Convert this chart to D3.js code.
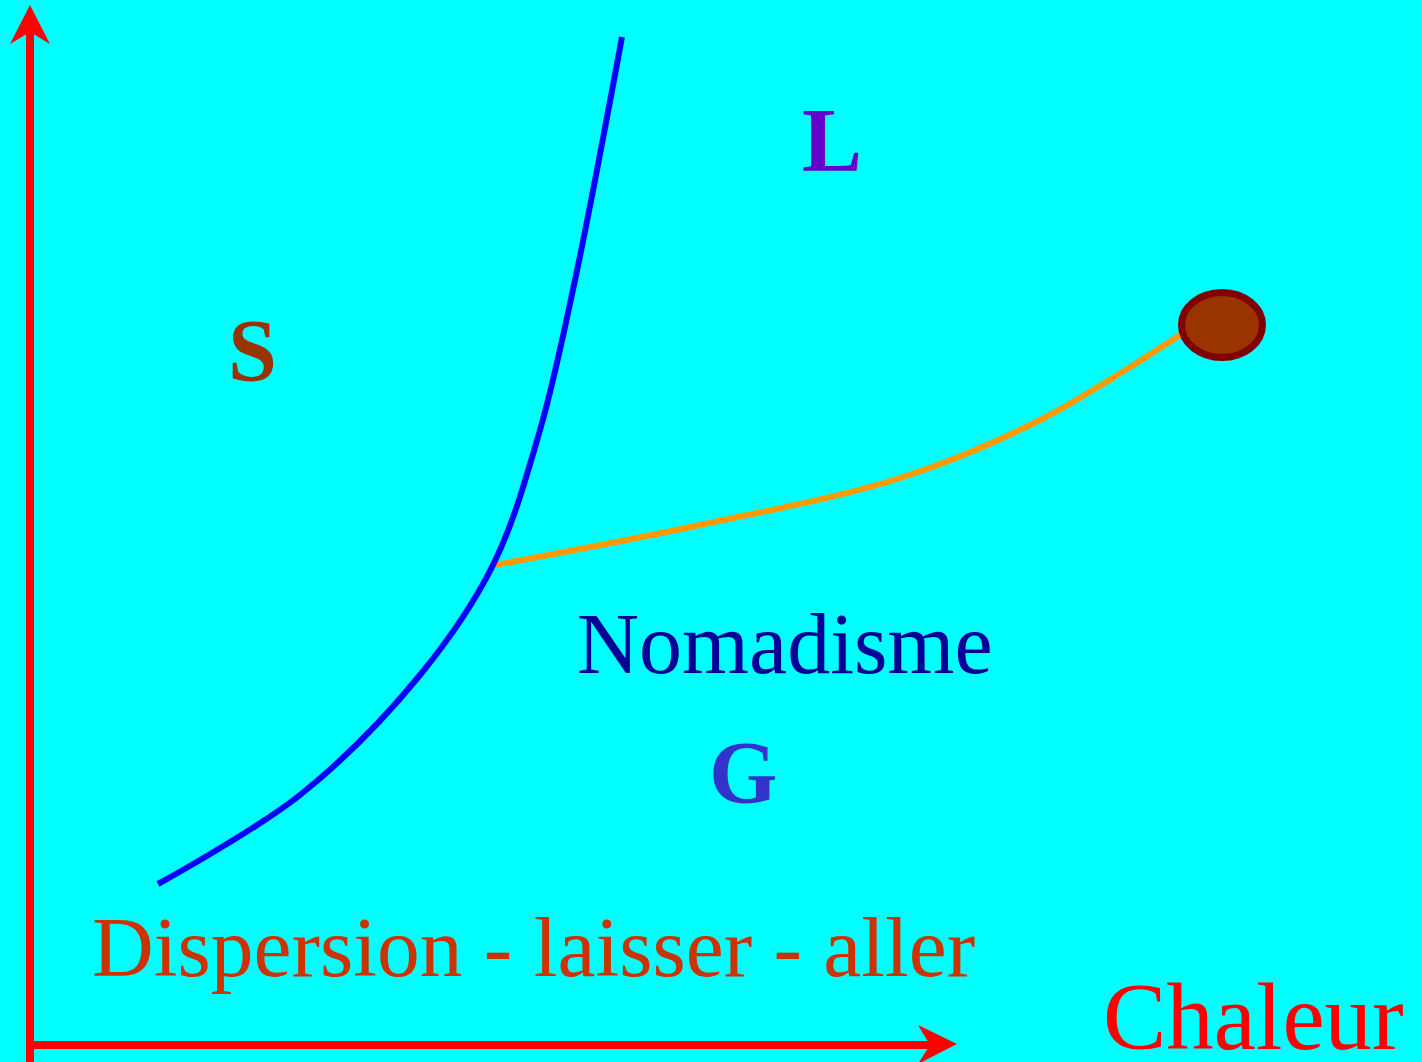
<!DOCTYPE html>
<html>
<head>
<meta charset="utf-8">
<script src="https://cdn.jsdelivr.net/npm/d3@7"></script>
<style>
html,body{margin:0;padding:0;background:#00ffff;overflow:hidden;}
svg{display:block;}
</style>
</head>
<body>
<svg id="chart" width="1422" height="1062"></svg>
<script>
// Data in schematic units (origin at axes crossing, x = heat, y = upward)
const solidLiquidBoundary = [
  [128,161],[270,250],[390,370],[463,480],[510,615],[545,765],[592,1008]
];
const liquidGasBoundary = [
  [465,480],[670,520],[870,567],[1010,625],[1150,710]
];
const criticalPoint = [1192, 720];
const labels = [
  {text:"S", x:198, y:665, size:88, weight:"bold", color:"#993300"},
  {text:"L", x:772, y:874, size:90, weight:"bold", color:"#6600cc"},
  {text:"G", x:679, y:243, size:88, weight:"bold", color:"#3333cc"},
  {text:"Nomadisme", x:547, y:372, size:86, weight:"normal", color:"#000099"},
  {text:"Dispersion - laisser - aller", x:62, y:69, size:85.5, weight:"normal", color:"#cc3300"},
  {text:"Chaleur", x:1073, y:-4, size:95, weight:"normal", color:"#ff0000"}
];
const xAxisExtent = [-4, 927];
const yAxisExtent = [-17, 1040];

const W = 1422, H = 1062;
const x = d3.scaleLinear().domain([0, 1392]).range([30, 1422]);
const y = d3.scaleLinear().domain([0, 1045]).range([1045, 0]);

const svg = d3.select("#chart");
svg.append("rect").attr("width", W).attr("height", H).attr("fill", "#00ffff");

const line = d3.line().x(d => x(d[0])).y(d => y(d[1])).curve(d3.curveCatmullRom.alpha(0.5));

// orange liquid-gas line
svg.append("path").datum(liquidGasBoundary).attr("d", line)
  .attr("fill", "none").attr("stroke", "#ff9900").attr("stroke-width", 6);

// blue solid boundary
svg.append("path").datum(solidLiquidBoundary).attr("d", line)
  .attr("fill", "none").attr("stroke", "#0000ff").attr("stroke-width", 6);

// critical point ellipse
svg.append("ellipse")
  .attr("cx", x(criticalPoint[0])).attr("cy", y(criticalPoint[1]))
  .attr("rx", x(40.5) - x(0)).attr("ry", y(0) - y(32.5))
  .attr("fill", "#993300").attr("stroke", "#800000").attr("stroke-width", 7);

// axes
svg.append("line")
  .attr("x1", x(0)).attr("x2", x(0))
  .attr("y1", y(yAxisExtent[0])).attr("y2", y(1013))
  .attr("stroke", "#ff0000").attr("stroke-width", 8);
svg.append("line")
  .attr("x1", x(xAxisExtent[0])).attr("x2", x(900))
  .attr("y1", y(0)).attr("y2", y(0))
  .attr("stroke", "#ff0000").attr("stroke-width", 8);

// arrow heads
const up = [[0, yAxisExtent[1]], [-20, 1001], [0, 1013], [20, 1001]];
const right = [[xAxisExtent[1], 1], [888, 20], [900, 0], [888, -19]];
const poly = pts => "M" + pts.map(p => x(p[0]) + "," + y(p[1])).join("L") + "Z";
svg.append("path").attr("d", poly(up)).attr("fill", "#ff0000");
svg.append("path").attr("d", poly(right)).attr("fill", "#ff0000");

// labels
svg.selectAll("text.lbl").data(labels).enter().append("text")
  .attr("class", "lbl")
  .attr("x", d => x(d.x)).attr("y", d => y(d.y))
  .attr("font-family", "'Liberation Serif', 'Times New Roman', serif")
  .attr("font-size", d => d.size)
  .attr("font-weight", d => d.weight)
  .attr("fill", d => d.color)
  .text(d => d.text);
</script>
</body>
</html>
